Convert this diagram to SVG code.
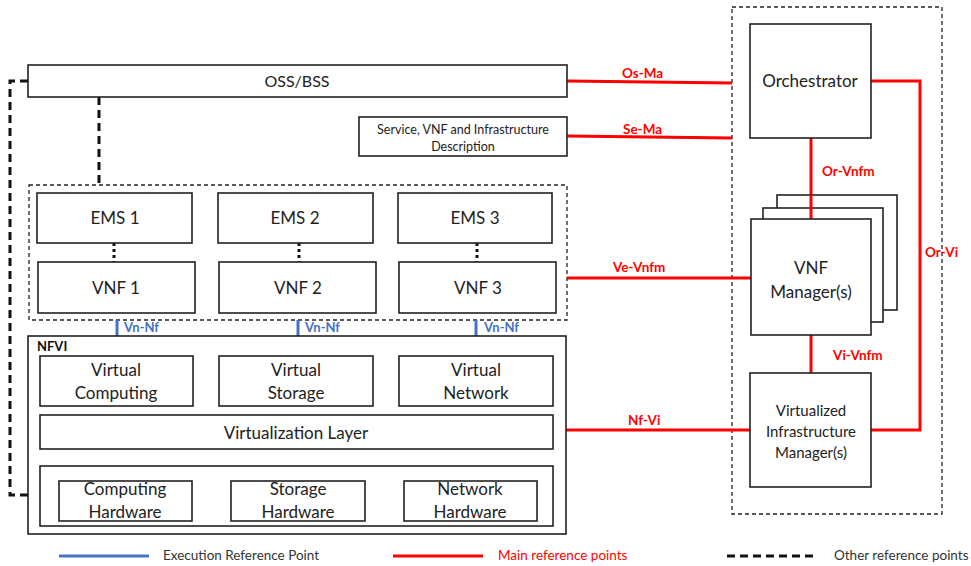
<svg xmlns="http://www.w3.org/2000/svg" width="971" height="566" viewBox="0 0 971 566">
  <style>
    .box { fill: #fff; stroke: #222; stroke-width: 1.6; }
    .frame { fill: none; stroke: #222; stroke-width: 1.3; stroke-dasharray: 4 3; }
    .t { font-family: Lato, "Liberation Sans", sans-serif; fill: #222; text-anchor: middle; }
    .big { font-size: 17px; }
    .mid { font-size: 17px; }
    .sm { font-size: 12.5px; }
    .red { stroke: #ff0000; stroke-width: 3; fill: none; }
    .blue { stroke: #4472c4; stroke-width: 3; fill: none; }
    .other { stroke: #111; stroke-width: 3; fill: none; stroke-dasharray: 8 5; }
    .dots { stroke: #111; stroke-width: 3; fill: none; stroke-dasharray: 3 3; }
    .lr { font-family: Lato, "Liberation Sans", sans-serif; font-size: 13.5px; font-weight: bold; fill: #ff0000; }
    .lb { font-family: Lato, "Liberation Sans", sans-serif; font-size: 13px; font-weight: bold; fill: #4472c4; }
    .leg { font-family: Lato, "Liberation Sans", sans-serif; font-size: 13.5px; fill: #333; }
  </style>

  <!-- management and orchestration frame -->
  <rect class="frame" x="732" y="7" width="210" height="507"/>
  <!-- EMS / VNF frame -->
  <rect class="frame" x="29" y="185" width="538" height="135"/>

  <g id="connectors">
    <!-- other reference points -->
    <path class="other" d="M99 97 V185"/>
    <path class="other" d="M28 81 H10 V495 H40"/>
    <path class="dots" d="M114 243 V262"/>
    <path class="dots" d="M299 243 V262"/>
    <path class="dots" d="M477 243 V262"/>
    <!-- main reference points -->
    <path class="red" d="M567 81 L732 83"/>
    <path class="red" d="M567 136 L732 138"/>
    <path class="red" d="M567 278 H751"/>
    <path class="red" d="M566 430 H751"/>
    <path class="red" d="M871 81 H920 V430 H871"/>
    <path class="red" d="M811 138 V219"/>
    <path class="red" d="M811 335 V373"/>
    <!-- execution reference points -->
    <path class="blue" d="M117 320 V336"/>
    <path class="blue" d="M298 320 V336"/>
    <path class="blue" d="M476 320 V336"/>
    <path class="blue" d="M297 449 V466"/>
    <!-- labels -->
    <text class="lr" x="622" y="78">Os-Ma</text>
    <text class="lr" x="623" y="134">Se-Ma</text>
    <text class="lr" x="822" y="176">Or-Vnfm</text>
    <text class="lr" x="613" y="272">Ve-Vnfm</text>
    <text class="lr" x="925" y="257">Or-Vi</text>
    <text class="lr" x="833" y="360">Vi-Vnfm</text>
    <text class="lr" x="628" y="425">Nf-Vi</text>
    <text class="lb" x="124" y="332">Vn-Nf</text>
    <text class="lb" x="305" y="332">Vn-Nf</text>
    <text class="lb" x="484" y="332">Vn-Nf</text>
    <text class="lb" x="301" y="462">Vl-Ha</text>
  </g>

  <g id="oss-bss">
    <rect class="box" x="28" y="65" width="539" height="32"/>
    <text class="t" style="font-size:16px" x="297" y="87">OSS/BSS</text>
  </g>

  <g id="descriptions">
    <rect class="box" x="359" y="117" width="208" height="39"/>
    <text class="t sm" x="463" y="134">Service, VNF and Infrastructure</text>
    <text class="t sm" x="463" y="151">Description</text>
  </g>

  <g id="ems1"><rect class="box" x="37" y="193" width="155" height="50"/><text class="t big" x="115" y="224">EMS 1</text></g>
  <g id="ems2"><rect class="box" x="218" y="193" width="155" height="50"/><text class="t big" x="295" y="224">EMS 2</text></g>
  <g id="ems3"><rect class="box" x="398" y="193" width="154" height="50"/><text class="t big" x="475" y="224">EMS 3</text></g>

  <g id="vnf1"><rect class="box" x="38" y="262" width="157" height="51"/><text class="t big" x="116" y="294">VNF 1</text></g>
  <g id="vnf2"><rect class="box" x="219" y="262" width="157" height="51"/><text class="t big" x="298" y="294">VNF 2</text></g>
  <g id="vnf3"><rect class="box" x="399" y="262" width="157" height="51"/><text class="t big" x="478" y="294">VNF 3</text></g>

  <g id="nfvi">
    <rect class="box" x="28" y="336" width="538" height="198"/>
    <text x="37" y="351" style="font-family: Lato, 'Liberation Sans', sans-serif; font-size: 13px; font-weight: bold; fill: #111;">NFVI</text>
  </g>
  <g id="virtual-computing"><rect class="box" x="40" y="356" width="153" height="50"/><text class="t mid" x="116" y="376">Virtual</text><text class="t mid" x="116" y="399">Computing</text></g>
  <g id="virtual-storage"><rect class="box" x="219" y="356" width="154" height="50"/><text class="t mid" x="296" y="376">Virtual</text><text class="t mid" x="296" y="399">Storage</text></g>
  <g id="virtual-network"><rect class="box" x="399" y="356" width="154" height="50"/><text class="t mid" x="476" y="376">Virtual</text><text class="t mid" x="476" y="399">Network</text></g>
  <g id="virtualization-layer"><rect class="box" x="40" y="415" width="513" height="34"/><text class="t mid" x="296" y="439">Virtualization Layer</text></g>
  <g id="hardware">
    <rect class="box" x="40" y="466" width="513" height="60"/>
  </g>
  <g id="computing-hardware"><rect class="box" x="59" y="481" width="133" height="40"/><text class="t mid" x="125" y="495">Computing</text><text class="t mid" x="125" y="518">Hardware</text></g>
  <g id="storage-hardware"><rect class="box" x="231" y="481" width="134" height="40"/><text class="t mid" x="298" y="495">Storage</text><text class="t mid" x="298" y="518">Hardware</text></g>
  <g id="network-hardware"><rect class="box" x="404" y="481" width="133" height="40"/><text class="t mid" x="470" y="495">Network</text><text class="t mid" x="470" y="518">Hardware</text></g>

  <g id="orchestrator"><rect class="box" x="750" y="24" width="121" height="114"/><text class="t big" x="810" y="87">Orchestrator</text></g>

  <g id="vnf-manager">
    <rect class="box" x="777" y="195" width="120" height="115"/>
    <rect class="box" x="763" y="208" width="120" height="114"/>
    <path class="red" d="M811 195 V219"/>
    <rect class="box" x="751" y="219" width="120" height="116"/>
    <text class="t big" x="811" y="274">VNF</text>
    <text class="t big" x="811" y="298">Manager(s)</text>
  </g>

  <g id="vim">
    <rect class="box" x="750" y="373" width="121" height="114"/>
    <text class="t" style="font-size:15px" x="811" y="416">Virtualized</text>
    <text class="t" style="font-size:15px" x="811" y="437">Infrastructure</text>
    <text class="t" style="font-size:15px" x="811" y="458">Manager(s)</text>
  </g>

  <g id="legend">
    <path class="blue" d="M59 556 H149"/>
    <text class="leg" x="163" y="560">Execution Reference Point</text>
    <path class="red" d="M393 556 H483"/>
    <text class="leg" x="498" y="560" style="fill:#ff0000">Main reference points</text>
    <path class="other" d="M727 556 H817"/>
    <text class="leg" x="834" y="560">Other reference points</text>
  </g>
</svg>
